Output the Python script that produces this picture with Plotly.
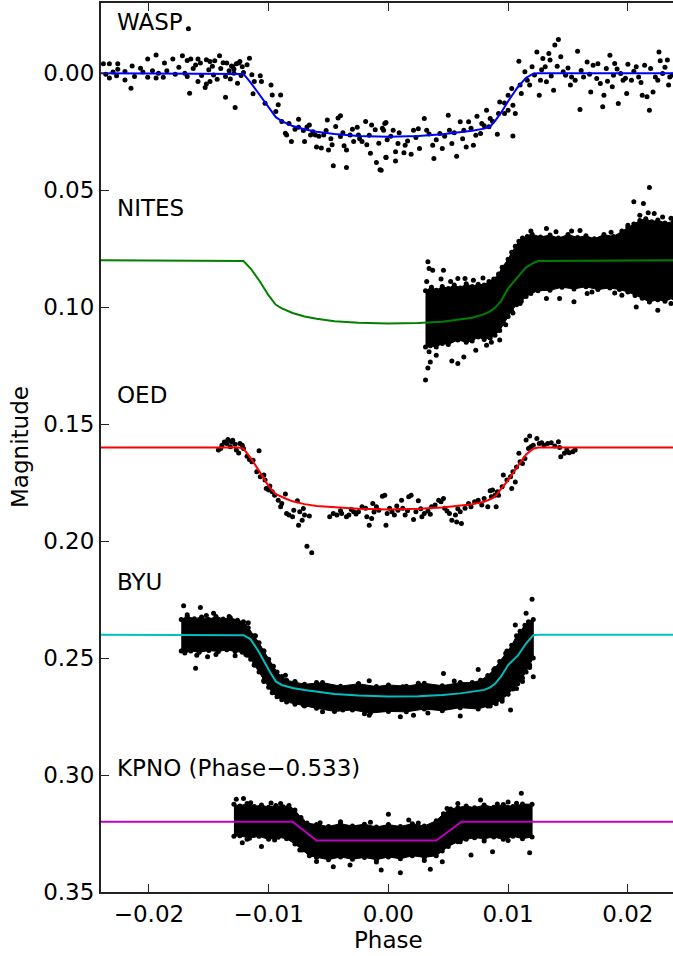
import plotly.graph_objects as go

# ---------------- data ----------------
model_phase = [-0.024, -0.0125, -0.0121, -0.0115, -0.0108, -0.0100, -0.0094, -0.0089, -0.0085,
               -0.0080, -0.0070, -0.0060, -0.0045, -0.0025, 0.0, 0.0025, 0.0045, 0.0060, 0.0070,
               0.0080, 0.0085, 0.0089, 0.0094, 0.0100, 0.0108, 0.0115, 0.0121, 0.0125, 0.024]
wasp_model = [0.0, 0.0, 0.0003, 0.0040, 0.0090, 0.0148, 0.0188, 0.0205, 0.0215, 0.0226, 0.0240,
              0.0250, 0.0260, 0.0268, 0.0272, 0.0268, 0.0261, 0.0253, 0.0246, 0.0237, 0.0228,
              0.0205, 0.0170, 0.0120, 0.0060, 0.0020, 0.0002, 0.0, 0.0]
nites_model = [0.080, 0.080, 0.0803, 0.0835, 0.0885, 0.0950, 0.0990, 0.1005, 0.1015, 0.1025,
               0.1040, 0.1050, 0.1060, 0.1067, 0.1070, 0.1068, 0.1062, 0.1052, 0.1045, 0.1030,
               0.1018, 0.1003, 0.0975, 0.0920, 0.0870, 0.0830, 0.0812, 0.0803, 0.080]
oed_model = [0.160, 0.160, 0.1605, 0.1645, 0.1700, 0.1765, 0.1800, 0.1812, 0.1820, 0.1830,
             0.1842, 0.1850, 0.1856, 0.1862, 0.1865, 0.1862, 0.1856, 0.1850, 0.1843, 0.1832,
             0.1822, 0.1810, 0.1780, 0.1740, 0.1680, 0.1630, 0.1605, 0.1600, 0.160]
byu_model = [0.240, 0.240, 0.2402, 0.2420, 0.2475, 0.2550, 0.2600, 0.2615, 0.2622, 0.2628,
             0.2637, 0.2645, 0.2654, 0.2660, 0.2664, 0.2663, 0.2658, 0.2651, 0.2645, 0.2636,
             0.2625, 0.2610, 0.2580, 0.2530, 0.2490, 0.2438, 0.2402, 0.2400, 0.240]
kpno_model_phase = [-0.024, -0.0080, -0.0060, 0.0040, 0.0061, 0.024]
kpno_model = [0.320, 0.320, 0.328, 0.328, 0.320, 0.320]

wasp_points = [
    (-0.0238, -0.0040), (-0.0233, -0.0040), (-0.0226, -0.0040), (-0.0226, -0.0017), (-0.0220, -0.0007),
    (-0.0214, -0.0031), (-0.0207, -0.0021), (-0.0201, -0.0061), (-0.0194, -0.0078), (-0.0187, -0.0043),
    (-0.0180, -0.0061), (-0.0172, -0.0074), (-0.0168, -0.0054), (-0.0165, -0.0061), (-0.0159, -0.0061),
    (-0.0157, -0.0043), (-0.0152, -0.0057), (-0.0149, -0.0050), (-0.0145, -0.0053), (-0.0141, -0.0074),
    (-0.0135, -0.0043), (-0.0131, -0.0031), (-0.0127, -0.0040), (-0.0233, 0.0021), (-0.0227, 0.0011),
    (-0.0220, 0.0029), (-0.0215, 0.0064), (-0.0212, 0.0014), (-0.0201, 0.0017), (-0.0194, 0.0021),
    (-0.0188, 0.0017), (-0.0168, 0.0014), (-0.0166, 0.0086), (-0.0159, 0.0036), (-0.0152, 0.0046),
    (-0.0153, 0.0061), (-0.0149, 0.0036), (-0.0143, 0.0026), (-0.0136, 0.0014), (-0.0136, 0.0103),
    (-0.0128, 0.0147), (-0.0126, 0.0043), (-0.0185, -0.0010), (-0.0178, 0.0005), (-0.0175, -0.0025),
    (-0.0170, 0.0000), (-0.0163, -0.0020), (-0.0161, -0.0035), (-0.0156, 0.0010), (-0.0150, -0.0015),
    (-0.0147, -0.0030), (-0.0146, 0.0008), (-0.0140, -0.0020), (-0.0138, -0.0045), (-0.0133, -0.0010),
    (-0.0132, 0.0025), (-0.0129, -0.0018), (-0.0124, -0.0050), (-0.0123, 0.0010), (-0.0197, -0.0010),
    (-0.0192, 0.0000), (-0.0230, -0.0005), (-0.0236, 0.0005), (-0.0205, -0.0005), (-0.0167, -0.0190),
    (-0.0121, -0.0003), (-0.0116, -0.0064), (-0.0118, -0.0036), (-0.0122, -0.0028), (-0.0125, -0.0043),
    (-0.0130, -0.0028), (-0.0129, 0.0000),
    (-0.0114, 0.0007), (-0.0112, 0.0036), (-0.0107, 0.0011), (-0.0106, 0.0036), (-0.0113, 0.0088),
    (-0.0103, 0.0128), (-0.0098, 0.0050), (-0.0097, 0.0093), (-0.0090, 0.0093), (-0.0092, 0.0135),
    (-0.0094, 0.0164), (-0.0089, 0.0207), (-0.0086, 0.0257), (-0.0085, 0.0264), (-0.0081, 0.0292),
    (-0.0075, 0.0197), (-0.0075, 0.0231), (-0.0071, 0.0245), (-0.0070, 0.0292), (-0.0066, 0.0221),
    (-0.0065, 0.0264), (-0.0061, 0.0264), (-0.0060, 0.0316), (-0.0056, 0.0320), (-0.0054, 0.0264),
    (-0.0051, 0.0200), (-0.0050, 0.0328), (-0.0047, 0.0306), (-0.0046, 0.0396), (-0.0044, 0.0228),
    (-0.0042, 0.0192), (-0.0040, 0.0182), (-0.0040, 0.0271), (-0.0037, 0.0310), (-0.0035, 0.0328),
    (-0.0035, 0.0403), (-0.0032, 0.0264), (-0.0029, 0.0292), (-0.0026, 0.0231), (-0.0025, 0.0264),
    (-0.0022, 0.0292), (-0.0019, 0.0207), (-0.0018, 0.0306), (-0.0015, 0.0342), (-0.0014, 0.0221),
    (-0.0011, 0.0242), (-0.0010, 0.0382), (-0.0007, 0.0413), (-0.0005, 0.0235), (-0.0002, 0.0211),
    (-0.0002, 0.0359), (-0.0001, 0.0285),
    (-0.0083, 0.0215), (-0.0078, 0.0240), (-0.0068, 0.0230), (-0.0063, 0.0250), (-0.0058, 0.0270),
    (-0.0052, 0.0245), (-0.0048, 0.0280), (-0.0038, 0.0255), (-0.0030, 0.0240), (-0.0024, 0.0280),
    (-0.0016, 0.0265), (-0.0008, 0.0300), (0.0002, 0.0270), (0.0009, 0.0255), (0.0016, 0.0290),
    (0.0023, 0.0275), (0.0034, 0.0260), (0.0040, 0.0285), (0.0047, 0.0270), (0.0055, 0.0255),
    (0.0062, 0.0280), (0.0069, 0.0235), (0.0073, 0.0265), (0.0080, 0.0225), (0.0087, 0.0205),
    (-0.0003, 0.0215), (-0.0002, 0.0360), (-0.0006, 0.0415), (-0.0004, 0.0244), (0.0004, 0.0244),
    (0.0006, 0.0336), (0.0006, 0.0375), (0.0008, 0.0301), (0.0013, 0.0340), (0.0014, 0.0308),
    (0.0019, 0.0346), (0.0021, 0.0244), (0.0025, 0.0237), (0.0026, 0.0322), (0.0030, 0.0194),
    (0.0032, 0.0244), (0.0038, 0.0365), (0.0037, 0.0308), (0.0043, 0.0258), (0.0045, 0.0322),
    (0.0050, 0.0180), (0.0051, 0.0244), (0.0053, 0.0301), (0.0057, 0.0355), (0.0060, 0.0208),
    (0.0063, 0.0244), (0.0065, 0.0315), (0.0067, 0.0208), (0.0071, 0.0308), (0.0074, 0.0184),
    (0.0077, 0.0258), (0.0078, 0.0215), (0.0082, 0.0158), (0.0084, 0.0229), (0.0085, 0.0194),
    (0.0091, 0.0261), (0.0092, 0.0172), (0.0093, 0.0123), (0.0097, 0.0172), (0.0097, 0.0127),
    (0.0100, 0.0094), (0.0100, 0.0158), (0.0103, 0.0066), (0.0104, 0.0137), (0.0104, 0.0269),
    (0.0106, 0.0172), (0.0109, -0.0051), (0.0110, 0.0051), (0.0111, 0.0087), (0.0114, -0.0006),
    (0.0116, 0.0030), (0.0118, 0.0051), (0.0120, -0.0027), (0.0124, -0.0091), (0.0126, 0.0094),
    (0.0127, 0.0030), (0.0129, -0.0063), (0.0131, -0.0027), (0.0132, 0.0037), (0.0134, -0.0084),
    (0.0135, -0.0056), (0.0138, 0.0073), (0.0139, -0.0120), (0.0142, -0.0144), (0.0144, -0.0070),
    (0.0146, -0.0006), (0.0148, 0.0009), (0.0152, 0.0051), (0.0153, 0.0016), (0.0158, -0.0094),
    (0.0160, 0.0155), (0.0163, 0.0016), (0.0166, -0.0048), (0.0169, 0.0080), (0.0171, -0.0034),
    (0.0174, 0.0023), (0.0177, 0.0044), (0.0179, 0.0144), (0.0180, 0.0094), (0.0182, -0.0020),
    (0.0185, -0.0077), (0.0187, 0.0058), (0.0188, 0.0009), (0.0189, -0.0041), (0.0192, 0.0130),
    (0.0194, 0.0001), (0.0196, 0.0030), (0.0199, 0.0087), (0.0200, -0.0038), (0.0203, 0.0030),
    (0.0207, -0.0027), (0.0209, 0.0016), (0.0212, 0.0094), (0.0214, -0.0034), (0.0216, 0.0101),
    (0.0218, 0.0158), (0.0221, 0.0080), (0.0223, 0.0016), (0.0226, -0.0091), (0.0227, -0.0053),
    (0.0229, 0.0001), (0.0233, -0.0056), (0.0234, 0.0051), (0.0235, 0.0016),
    (0.0122, 0.0008), (0.0128, -0.0015), (0.0136, 0.0012), (0.0141, -0.0030), (0.0150, -0.0022),
    (0.0156, 0.0030), (0.0161, -0.0012), (0.0168, 0.0005), (0.0175, -0.0040), (0.0183, 0.0035),
    (0.0191, -0.0018), (0.0198, 0.0022), (0.0205, -0.0008), (0.0211, 0.0040), (0.0219, -0.0020),
    (0.0225, 0.0030), (0.0231, -0.0025), (0.0237, 0.0008),
]

oed_points = [
    (-0.0142, 0.1611), (-0.0139, 0.1590), (-0.0137, 0.1576), (-0.0135, 0.1583), (-0.0134, 0.1566),
    (-0.0132, 0.1597), (-0.0131, 0.1576), (-0.0130, 0.1569), (-0.0128, 0.1586), (-0.0127, 0.1611),
    (-0.0125, 0.1623), (-0.0124, 0.1583), (-0.0122, 0.1590), (-0.0121, 0.1604), (-0.0140, 0.1604),
    (-0.0118, 0.1637), (-0.0116, 0.1651), (-0.0114, 0.1661), (-0.0113, 0.1654), (-0.0108, 0.1614),
    (-0.0110, 0.1704), (-0.0107, 0.1725), (-0.0104, 0.1718), (-0.0103, 0.1739), (-0.0102, 0.1775),
    (-0.0100, 0.1782), (-0.0099, 0.1765), (-0.0097, 0.1789), (-0.0095, 0.1804), (-0.0092, 0.1825),
    (-0.0090, 0.1853), (-0.0089, 0.1839), (-0.0086, 0.1799), (-0.0085, 0.1882), (-0.0083, 0.1889),
    (-0.0080, 0.1896), (-0.0079, 0.1868), (-0.0076, 0.1828), (-0.0075, 0.1932), (-0.0074, 0.1875),
    (-0.0072, 0.1911), (-0.0071, 0.1861), (-0.0070, 0.1889), (-0.0068, 0.2022), (-0.0066, 0.1893),
    (-0.0064, 0.2050), (-0.0049, 0.1896), (-0.0046, 0.1882), (-0.0043, 0.1889), (-0.0039, 0.1882),
    (-0.0035, 0.1896), (-0.0033, 0.1889), (-0.0029, 0.1875), (-0.0025, 0.1875), (-0.0022, 0.1853),
    (-0.0019, 0.1860), (-0.0018, 0.1896), (-0.0016, 0.1932), (-0.0014, 0.1903), (-0.0013, 0.1839),
    (-0.0010, 0.1853), (-0.0008, 0.1868), (-0.0005, 0.1808), (-0.0003, 0.1804), (-0.0002, 0.1932),
    (-0.0001, 0.1882), (0.0001, 0.1860), (0.0003, 0.1875), (0.0005, 0.1889), (0.0008, 0.1868),
    (0.0011, 0.1825), (0.0012, 0.1860), (0.0014, 0.1889), (0.0017, 0.1811), (0.0019, 0.1804),
    (0.0021, 0.1908), (0.0023, 0.1875), (0.0025, 0.1828), (0.0028, 0.1896), (0.0030, 0.1882),
    (0.0033, 0.1871), (0.0036, 0.1853), (0.0039, 0.1846), (0.0042, 0.1825), (0.0044, 0.1832),
    (0.0046, 0.1818), (0.0049, 0.1871), (0.0051, 0.1882), (0.0053, 0.1911), (0.0056, 0.1889),
    (0.0057, 0.1918), (0.0060, 0.1875), (0.0061, 0.1925), (0.0064, 0.1860), (0.0067, 0.1839),
    (0.0069, 0.1853), (0.0072, 0.1832), (0.0075, 0.1825), (0.0078, 0.1846), (0.0080, 0.1818),
    (0.0083, 0.1853), (0.0086, 0.1811), (0.0089, 0.1804), (0.0091, 0.1789),
    (-0.0040, 0.1870), (-0.0031, 0.1865), (-0.0027, 0.1884), (-0.0012, 0.1876), (0.0007, 0.1850),
    (0.0016, 0.1870), (0.0027, 0.1862), (0.0035, 0.1885), (0.0047, 0.1860), (0.0058, 0.1862),
    (0.0085, 0.1785), (0.0087, 0.1782), (0.0090, 0.1853), (0.0092, 0.1804), (0.0095, 0.1768),
    (0.0096, 0.1718), (0.0099, 0.1739), (0.0102, 0.1725), (0.0103, 0.1775), (0.0104, 0.1704),
    (0.0106, 0.1747), (0.0107, 0.1683), (0.0109, 0.1625), (0.0110, 0.1661), (0.0112, 0.1668),
    (0.0114, 0.1647), (0.0115, 0.1568), (0.0117, 0.1604), (0.0118, 0.1551), (0.0119, 0.1597),
    (0.0121, 0.1590), (0.0124, 0.1561), (0.0126, 0.1583), (0.0128, 0.1580), (0.0130, 0.1590),
    (0.0133, 0.1583), (0.0136, 0.1580), (0.0139, 0.1594), (0.0142, 0.1575), (0.0143, 0.1600),
    (0.0144, 0.1640), (0.0147, 0.1625), (0.0149, 0.1611), (0.0151, 0.1622), (0.0154, 0.1618),
    (0.0156, 0.1611),
]

# dense clouds: outline (upper edge then lower edge)
nites_cloud_phase = [0.0031, 0.0036, 0.0040, 0.0045, 0.0050, 0.0055, 0.0060, 0.0065, 0.0070, 0.0075,
                     0.0080, 0.0084, 0.0088, 0.0092, 0.0095, 0.0100, 0.0103, 0.0106, 0.0109, 0.0112,
                     0.0116, 0.0120, 0.0127, 0.0135, 0.0142, 0.0150, 0.0158, 0.0165, 0.0172, 0.0180,
                     0.0188, 0.0195, 0.0200, 0.0205, 0.0210, 0.0215, 0.0220, 0.0225, 0.0231, 0.0238,
                     0.0238, 0.0231, 0.0225, 0.0218, 0.0212, 0.0206, 0.0200, 0.0193, 0.0185, 0.0175,
                     0.0165, 0.0155, 0.0145, 0.0135, 0.0125, 0.0119, 0.0115, 0.0111, 0.0107, 0.0103,
                     0.0100, 0.0096, 0.0093, 0.0089, 0.0085, 0.0080, 0.0075, 0.0070, 0.0065, 0.0058,
                     0.0050, 0.0045, 0.0040, 0.0035, 0.0031]
nites_cloud_mag = [0.0930, 0.0915, 0.0928, 0.0912, 0.0920, 0.0905, 0.0918, 0.0900, 0.0912, 0.0902,
                   0.0905, 0.0890, 0.0880, 0.0858, 0.0830, 0.0795, 0.0765, 0.0740, 0.0718, 0.0705,
                   0.0698, 0.0688, 0.0700, 0.0692, 0.0705, 0.0690, 0.0702, 0.0695, 0.0708, 0.0690,
                   0.0698, 0.0675, 0.0660, 0.0645, 0.0630, 0.0622, 0.0635, 0.0628, 0.0640, 0.0635,
                   0.0960, 0.0975, 0.0968, 0.0978, 0.0962, 0.0950, 0.0935, 0.0925, 0.0918, 0.0925,
                   0.0913, 0.0922, 0.0915, 0.0928, 0.0930, 0.0942, 0.0955, 0.0975, 0.0990, 0.1015,
                   0.1040, 0.1070, 0.1100, 0.1120, 0.1132, 0.1138, 0.1128, 0.1145, 0.1150, 0.1140,
                   0.1160, 0.1155, 0.1170, 0.1165, 0.1170]
nites_points = [
    (0.0031, 0.1312), (0.0033, 0.0806), (0.0034, 0.0835), (0.0037, 0.0842), (0.0046, 0.0842),
    (0.0058, 0.0878), (0.0064, 0.0878), (0.0053, 0.1230), (0.0058, 0.1241), (0.0063, 0.1213),
    (0.0040, 0.1206), (0.0035, 0.1234), (0.0034, 0.1191), (0.0073, 0.1184), (0.0082, 0.1163),
    (0.0093, 0.1141), (0.0132, 0.0963), (0.0143, 0.0963), (0.0155, 0.0977), (0.0166, 0.0942),
    (0.0132, 0.0664), (0.0153, 0.0675), (0.0177, 0.0707), (0.0205, 0.0550), (0.0213, 0.0557),
    (0.0218, 0.0489), (0.0210, 0.0607), (0.0217, 0.0597), (0.0207, 0.0999), (0.0225, 0.1013),
    (0.0232, 0.0956), (0.0195, 0.0949), (0.0217, 0.0949), (0.0032, 0.0890), (0.0033, 0.1260),
    (0.0044, 0.0880), (0.0052, 0.0890), (0.0071, 0.0885), (0.0079, 0.0875), (0.0086, 0.1150),
    (0.0098, 0.1075), (0.0104, 0.1025), (0.0110, 0.0985), (0.0119, 0.0675), (0.0140, 0.0678),
    (0.0160, 0.0672), (0.0170, 0.0935), (0.0186, 0.0680), (0.0189, 0.0940), (0.0200, 0.0650),
    (0.0222, 0.0600), (0.0229, 0.0615), (0.0236, 0.0620), (0.0236, 0.0985),
]

byu_cloud_phase = [-0.0173, -0.0168, -0.0162, -0.0156, -0.0150, -0.0144, -0.0138, -0.0132, -0.0126,
                   -0.0121, -0.0117, -0.0112, -0.0108, -0.0104, -0.0100, -0.0096, -0.0093, -0.0089,
                   -0.0085, -0.0078, -0.0070, -0.0055, -0.0040, -0.0025, -0.0010, 0.0000, 0.0015,
                   0.0030, 0.0045, 0.0060, 0.0070, 0.0077, 0.0083, 0.0088, 0.0093, 0.0098, 0.0103,
                   0.0107, 0.0110, 0.0114, 0.0117, 0.0121,
                   0.0121, 0.0118, 0.0115, 0.0112, 0.0108, 0.0104, 0.0100, 0.0095, 0.0090, 0.0083,
                   0.0075, 0.0060, 0.0045, 0.0030, 0.0015, 0.0000, -0.0015, -0.0030, -0.0045,
                   -0.0060, -0.0070, -0.0078, -0.0085, -0.0089, -0.0093, -0.0097, -0.0100, -0.0104,
                   -0.0108, -0.0112, -0.0115, -0.0119, -0.0122, -0.0128, -0.0135, -0.0142, -0.0150,
                   -0.0158, -0.0165, -0.0170, -0.0173]
byu_cloud_mag = [0.2335, 0.2322, 0.2332, 0.2325, 0.2335, 0.2322, 0.2333, 0.2328, 0.2338,
                 0.2345, 0.2370, 0.2405, 0.2435, 0.2470, 0.2505, 0.2535, 0.2560, 0.2580,
                 0.2595, 0.2603, 0.2612, 0.2605, 0.2620, 0.2610, 0.2622, 0.2615, 0.2620,
                 0.2608, 0.2618, 0.2605, 0.2605, 0.2595, 0.2575, 0.2550, 0.2515, 0.2480, 0.2445,
                 0.2405, 0.2385, 0.2360, 0.2345, 0.2335,
                 0.2500, 0.2530, 0.2560, 0.2585, 0.2610, 0.2632, 0.2655, 0.2675, 0.2695, 0.2705,
                 0.2718, 0.2712, 0.2725, 0.2718, 0.2730, 0.2728, 0.2735, 0.2722, 0.2728,
                 0.2715, 0.2705, 0.2698, 0.2688, 0.2678, 0.2665, 0.2648, 0.2625, 0.2595,
                 0.2560, 0.2530, 0.2505, 0.2485, 0.2475, 0.2472, 0.2465, 0.2472, 0.2468,
                 0.2475, 0.2470, 0.2478, 0.2470]
byu_points = [
    (-0.0171, 0.2276), (-0.0157, 0.2284), (-0.0146, 0.2309), (-0.0161, 0.2544), (-0.0151, 0.2494),
    (-0.0171, 0.2466), (-0.0117, 0.2349), (-0.0120, 0.2363), (-0.0086, 0.2573), (-0.0071, 0.2701),
    (-0.0038, 0.2722), (-0.0016, 0.2597), (-0.0016, 0.2744), (0.0010, 0.2751), (0.0012, 0.2623),
    (0.0120, 0.2249), (0.0115, 0.2309), (0.0106, 0.2359), (0.0046, 0.2566), (0.0075, 0.2549),
    (0.0102, 0.2722), (0.0060, 0.2748), (0.0021, 0.2744), (0.0107, 0.2630), (0.0121, 0.2580),
    (-0.0168, 0.2315), (-0.0152, 0.2318), (-0.0133, 0.2322), (-0.0128, 0.2490), (-0.0144, 0.2485),
    (-0.0160, 0.2488), (-0.0111, 0.2405), (-0.0104, 0.2470), (-0.0097, 0.2535), (-0.0089, 0.2580),
    (-0.0078, 0.2600), (-0.0060, 0.2605), (-0.0025, 0.2610), (0.0025, 0.2608), (0.0055, 0.2598),
    (-0.0055, 0.2730), (-0.0020, 0.2738), (0.0033, 0.2735), (0.0085, 0.2705), (0.0095, 0.2685),
    (0.0112, 0.2600), (0.0118, 0.2540), (0.0089, 0.2545), (0.0099, 0.2470), (-0.0104, 0.2600),
    (-0.0112, 0.2530), (-0.0118, 0.2488),
]

kpno_cloud_phase = [-0.0129, -0.0124, -0.0118, -0.0112, -0.0106, -0.0100, -0.0094, -0.0088, -0.0083,
                    -0.0078, -0.0073, -0.0068, -0.0060, -0.0050, -0.0040, -0.0030, -0.0020, -0.0010,
                    0.0000, 0.0010, 0.0020, 0.0030, 0.0040, 0.0046, 0.0052, 0.0058, 0.0065, 0.0072,
                    0.0080, 0.0088, 0.0096, 0.0104, 0.0112, 0.0120,
                    0.0120, 0.0112, 0.0104, 0.0096, 0.0088, 0.0080, 0.0072, 0.0065, 0.0058, 0.0050,
                    0.0045, 0.0040, 0.0030, 0.0020, 0.0010, 0.0000, -0.0010, -0.0020, -0.0030,
                    -0.0040, -0.0050, -0.0060, -0.0066, -0.0072, -0.0078, -0.0085, -0.0092, -0.0100,
                    -0.0108, -0.0116, -0.0124, -0.0129]
kpno_cloud_mag = [0.3125, 0.3132, 0.3122, 0.3135, 0.3128, 0.3138, 0.3130, 0.3136, 0.3130,
                  0.3150, 0.3182, 0.3205, 0.3212, 0.3220, 0.3208, 0.3218, 0.3210, 0.3222,
                  0.3212, 0.3220, 0.3208, 0.3218, 0.3195, 0.3165, 0.3145, 0.3140, 0.3132, 0.3140,
                  0.3128, 0.3138, 0.3126, 0.3135, 0.3124, 0.3125,
                  0.3265, 0.3272, 0.3262, 0.3275, 0.3265, 0.3272, 0.3268, 0.3275, 0.3285, 0.3305,
                  0.3325, 0.3345, 0.3352, 0.3345, 0.3358, 0.3350, 0.3362, 0.3352, 0.3360,
                  0.3350, 0.3362, 0.3352, 0.3345, 0.3320, 0.3295, 0.3272, 0.3266, 0.3275,
                  0.3262, 0.3270, 0.3260, 0.3262]
kpno_points = [
    (-0.0127, 0.3104), (-0.0121, 0.3100), (-0.0124, 0.3135), (-0.0122, 0.3290), (-0.0106, 0.3306),
    (-0.0074, 0.3321), (-0.0057, 0.3204), (-0.0046, 0.3392), (-0.0032, 0.3385), (-0.0006, 0.3406),
    (0.0010, 0.3418), (0.0000, 0.3168), (0.0017, 0.3192), (0.0035, 0.3403), (0.0045, 0.3371),
    (0.0049, 0.3143), (0.0069, 0.3342), (0.0077, 0.3107), (0.0087, 0.3328), (0.0091, 0.3124),
    (0.0111, 0.3078), (0.0118, 0.3332), (0.0107, 0.3121), (-0.0115, 0.3118), (-0.0098, 0.3120),
    (-0.0090, 0.3122), (-0.0118, 0.3275), (-0.0095, 0.3278), (-0.0072, 0.3195), (-0.0040, 0.3200),
    (-0.0015, 0.3202), (0.0025, 0.3205), (-0.0060, 0.3370), (-0.0010, 0.3372), (0.0030, 0.3365),
    (0.0060, 0.3285), (0.0080, 0.3282), (0.0100, 0.3280), (0.0058, 0.3122), (0.0100, 0.3115),
]

series_labels = ["WASP", "NITES", "OED", "BYU", "KPNO (Phase\u22120.533)"]
label_mag = [-0.0218, 0.0577, 0.1376, 0.2175, 0.2970]
label_phase = -0.02285

x_ticks = [-0.02, -0.01, 0.0, 0.01, 0.02]
x_ticktext = ["\u22120.02", "\u22120.01", "0.00", "0.01", "0.02"]
y_ticks = [0.00, 0.05, 0.10, 0.15, 0.20, 0.25, 0.30, 0.35]
y_ticktext = ["0.00", "0.05", "0.10", "0.15", "0.20", "0.25", "0.30", "0.35"]

# ---------------- figure ----------------
FONT = "DejaVu Sans"
FS = 23
fig = go.Figure()


def add_points(pts):
    fig.add_trace(go.Scatter(x=[p[0] for p in pts], y=[p[1] for p in pts], mode="markers",
                             marker=dict(color="black", size=5, line=dict(width=0)),
                             showlegend=False, hoverinfo="skip"))


def add_cloud(px, py):
    fig.add_trace(go.Scatter(x=px, y=py, mode="lines+markers", fill="toself",
                             fillcolor="black", line=dict(color="black", width=1),
                             marker=dict(color="black", size=5),
                             showlegend=False, hoverinfo="skip"))


add_points(wasp_points)
add_cloud(nites_cloud_phase, nites_cloud_mag)
add_points(nites_points)
add_points(oed_points)
add_cloud(byu_cloud_phase, byu_cloud_mag)
add_points(byu_points)
add_cloud(kpno_cloud_phase, kpno_cloud_mag)
add_points(kpno_points)

for ys, col in [(wasp_model, "#0000ff"), (nites_model, "#008000"), (oed_model, "#ff0000"),
                (byu_model, "#00bfbf")]:
    fig.add_trace(go.Scatter(x=model_phase, y=ys, mode="lines",
                             line=dict(color=col, width=2), showlegend=False, hoverinfo="skip"))
fig.add_trace(go.Scatter(x=kpno_model_phase, y=kpno_model, mode="lines",
                         line=dict(color="#bf00bf", width=2), showlegend=False, hoverinfo="skip"))

annotations = []
for lab, ym in zip(series_labels, label_mag):
    annotations.append(dict(x=label_phase, y=ym, xref="x", yref="y", text=lab, showarrow=False,
                            xanchor="left", yanchor="middle",
                            font=dict(family=FONT, size=FS, color="black")))
annotations.append(dict(x=-0.1416, y=0.5006, xref="paper", yref="paper", text="Magnitude",
                        showarrow=False, textangle=-90, xanchor="center", yanchor="middle",
                        font=dict(family=FONT, size=FS, color="black")))
annotations.append(dict(x=0.0, y=-0.0545, xref="x", yref="paper", text="Phase",
                        showarrow=False, xanchor="center", yanchor="middle",
                        font=dict(family=FONT, size=FS, color="black")))

fig.update_layout(
    width=673, height=956,
    margin=dict(l=101, r=0, t=3, b=64),
    paper_bgcolor="white", plot_bgcolor="white",
    annotations=annotations,
    xaxis=dict(range=[-0.024, 0.02377], tickvals=x_ticks, ticktext=x_ticktext,
               showgrid=False, zeroline=False, showline=True, linecolor="#222222", linewidth=2,
               mirror="ticks", ticks="inside", ticklen=8, tickwidth=1, tickcolor="#222222",
               tickfont=dict(family=FONT, size=FS, color="black")),
    yaxis=dict(range=[0.35, -0.03], tickvals=y_ticks, ticktext=y_ticktext,
               showgrid=False, zeroline=False, showline=True, linecolor="#222222", linewidth=2,
               ticks="inside", ticklen=8, tickwidth=1, tickcolor="#222222",
               tickfont=dict(family=FONT, size=FS, color="black")),
)

fig.write_html("out.html", config={"displayModeBar": False},
               post_script="document.body.style.margin='0';document.body.style.overflow='hidden';")
